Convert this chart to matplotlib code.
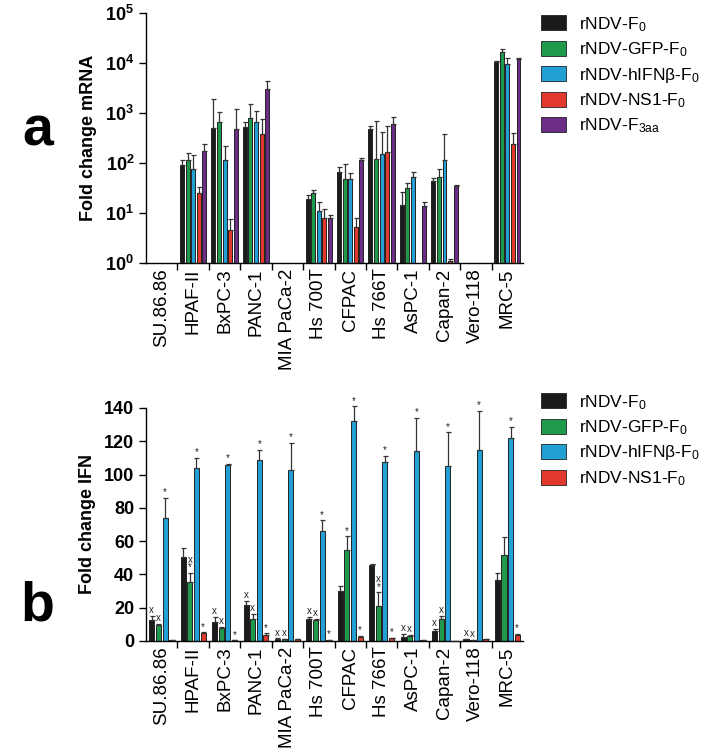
import numpy as np
import matplotlib
matplotlib.use("Agg")
import matplotlib.pyplot as plt
from matplotlib.patches import Patch
from matplotlib.ticker import FixedLocator, NullLocator, FixedFormatter

plt.rcParams["font.family"] = ["Liberation Sans", "DejaVu Sans"]
plt.rcParams["mathtext.fontset"] = "custom"
plt.rcParams["mathtext.rm"] = "Liberation Sans"
plt.rcParams["mathtext.it"] = "Liberation Sans:italic"
plt.rcParams["mathtext.bf"] = "Liberation Sans:bold"

cells = ["SU.86.86", "HPAF-II", "BxPC-3", "PANC-1", "MIA PaCa-2", "Hs 700T",
         "CFPAC", "Hs 766T", "AsPC-1", "Capan-2", "Vero-118", "MRC-5"]
nan = np.nan

# panel a: fold change mRNA (log)
mrna_f0 = [nan, 91, 500, 525, nan, 19, 66, 480, 14.5, 44, nan, 10500]
mrna_f0_sd = [nan, 24, 1400, 135, nan, 4, 17, 70, 11.5, 6, nan, 500]
mrna_gfp = [nan, 115, 660, 800, nan, 25, 48, 120, 32, 52, nan, 16600]
mrna_gfp_sd = [nan, 43, 390, 700, nan, 4, 47, 570, 8, 24, nan, 2400]
mrna_ifn = [nan, 76, 115, 660, nan, 11, 48, 150, 52, 115, nan, 9500]
mrna_ifn_sd = [nan, 69, 105, 440, nan, 5.6, 15, 270, 14, 265, nan, 3100]
mrna_ns1 = [nan, 25, 4.6, 380, nan, 8, 5.2, 166, nan, 1.1, nan, 240]
mrna_ns1_sd = [nan, 8, 3, 380, nan, 4, 2.8, 384, nan, 0.1, nan, 160]
mrna_f3aa = [nan, 174, 480, 3000, nan, 8, 115, 600, 14, 35, nan, 12000]
mrna_f3aa_sd = [nan, 66, 720, 1400, nan, 1.1, 11, 230, 2.6, 1, nan, 600]

# panel b: fold change IFN
ifn_f0 = [12.6, 50.5, 11.6, 21.6, 1.2, 13.2, 30.1, 45.9, 2.6, 6.2, 1.0, 36.5]
ifn_f0_sd = [2.4, 5.4, 3.0, 2.4, 0.3, 1.4, 2.9, 0.6, 1.6, 1.0, 0.3, 4.5]
ifn_gfp = [9.6, 35.3, 7.6, 13.2, 1.0, 12.6, 54.5, 21.1, 3.0, 13.0, 0.6, 51.5]
ifn_gfp_sd = [0.6, 5.6, 1.0, 3.0, 0.2, 0.6, 8.4, 8.1, 0.6, 2.0, 0.2, 11.0]
ifn_ifn = [74, 104, 105.6, 108.8, 103, 65.9, 132, 107.8, 114.4, 105, 114.8, 121.7]
ifn_ifn_sd = [11.8, 6, 0.8, 6, 16, 6.6, 9, 3.6, 19.5, 20.3, 23.5, 7]
ifn_ns1 = [0.6, 4.6, 0.4, 3.6, 1.2, 0.6, 2.6, 1.6, 0.6, 0.2, 1.4, 3.6]
ifn_ns1_sd = [0, 0.6, 0, 1.0, 0, 0, 0.4, 0.4, 0, 0, 0, 0.6]

sig_f0 = ["x", "", "x", "x", "x", "x", "", "", "x", "x", "x", ""]
sig_gfp = ["x", "x\n*", "x", "x", "x", "x", "*", "x\n*", "x", "x", "x", ""]
sig_ifn = ["*"] * 12
sig_ns1 = ["", "*", "*", "*", "", "*", "*", "*", "", "", "", "*"]

colors = ["#1b1b1b", "#1f9a4b", "#22a0d6", "#e2392f", "#6b2d86"]
labels_a = [r"rNDV-F$_{\mathrm{0}}$", r"rNDV-GFP-F$_{\mathrm{0}}$",
            r"rNDV-hIFNβ-F$_{\mathrm{0}}$", r"rNDV-NS1-F$_{\mathrm{0}}$",
            r"rNDV-F$_{\mathrm{3aa}}$"]

fig = plt.figure(figsize=(7.2, 7.54), dpi=100)
ax_a = fig.add_axes([0.2028, 0.6512, 0.5236, 0.3316])
ax_b = fig.add_axes([0.2028, 0.1499, 0.5236, 0.3090])

x = np.arange(len(cells))


def style_axis(ax):
    ax.spines["top"].set_visible(False)
    ax.spines["right"].set_visible(False)
    ax.spines["left"].set_linewidth(1.0)
    ax.spines["bottom"].set_linewidth(1.0)
    ax.set_xlim(-0.5, len(cells) - 0.5)
    ax.xaxis.set_major_locator(FixedLocator(np.arange(0.5, len(cells) - 0.5, 1)))
    ax.xaxis.set_major_formatter(FixedFormatter([""] * (len(cells) - 1)))
    ax.xaxis.set_minor_locator(FixedLocator(x))
    ax.xaxis.set_minor_formatter(FixedFormatter(cells))
    ax.tick_params(axis="x", which="major", length=5, width=1, direction="out")
    ax.tick_params(axis="x", which="minor", length=0, labelsize=13.5, rotation=90, pad=4)
    ax.tick_params(axis="y", length=5, width=1, direction="out", labelsize=13)
    for t in ax.get_yticklabels():
        t.set_fontweight("bold")


# panel a
ax_a.set_yscale("log")
series_a = [(mrna_f0, mrna_f0_sd), (mrna_gfp, mrna_gfp_sd), (mrna_ifn, mrna_ifn_sd),
            (mrna_ns1, mrna_ns1_sd), (mrna_f3aa, mrna_f3aa_sd)]
pitch_a, w_a = 0.178, 0.125
for i, (vals, sd) in enumerate(series_a):
    vals = np.array(vals, float)
    sd = np.array(sd, float)
    xs = x + (i - 2) * pitch_a
    ax_a.bar(xs, vals - 1, bottom=1, width=w_a, color=colors[i],
             edgecolor="#222222", linewidth=0.7, zorder=2)
    ax_a.errorbar(xs, vals, yerr=[np.zeros_like(sd), sd], fmt="none",
                  ecolor="#333333", elinewidth=0.9, capsize=1.8, capthick=0.9, zorder=3)
ax_a.set_ylim(1, 1e5)
ax_a.yaxis.set_major_locator(FixedLocator([1, 10, 100, 1e3, 1e4, 1e5]))
ax_a.yaxis.set_minor_locator(NullLocator())
ax_a.yaxis.set_major_formatter(FixedFormatter(
    [r"$\mathbf{10^{%d}}$" % k for k in range(6)]))
style_axis(ax_a)
ax_a.set_ylabel("Fold change mRNA", fontsize=13, fontweight="bold", labelpad=6)
handles_a = [Patch(facecolor=c, edgecolor="#222222", linewidth=0.6) for c in colors]
ax_a.legend(handles_a, labels_a, loc="upper left", bbox_to_anchor=(1.03, 1.02),
            frameon=False, fontsize=12.5, handlelength=1.45, handleheight=0.95,
            handletextpad=0.75, labelspacing=0.38, borderaxespad=0)

# panel b
series_b = [(ifn_f0, ifn_f0_sd, sig_f0), (ifn_gfp, ifn_gfp_sd, sig_gfp),
            (ifn_ifn, ifn_ifn_sd, sig_ifn), (ifn_ns1, ifn_ns1_sd, sig_ns1)]
pitch_b, w_b = 0.21, 0.16
for i, (vals, sd, sig) in enumerate(series_b):
    vals = np.array(vals, float)
    sd = np.array(sd, float)
    xs = x + (i - 1.5) * pitch_b
    ax_b.bar(xs, vals, width=w_b, color=colors[i], edgecolor="#222222",
             linewidth=0.7, zorder=2)
    ax_b.errorbar(xs, vals, yerr=[np.zeros_like(sd), sd], fmt="none",
                  ecolor="#333333", elinewidth=0.9, capsize=1.8, capthick=0.9,
                  zorder=3, clip_on=False)
    for xi, v, s, m in zip(xs, vals, sd, sig):
        if m:
            ax_b.annotate(m, (xi, v + s), xytext=(0, 0.5), textcoords="offset points",
                          ha="center", va="bottom", fontsize=7,
                          linespacing=0.7, color="#222222", annotation_clip=False)
ax_b.set_ylim(0, 140)
ax_b.yaxis.set_major_locator(FixedLocator(np.arange(0, 141, 20)))
style_axis(ax_b)
ax_b.set_ylabel("Fold change IFN", fontsize=13, fontweight="bold", labelpad=6)
ax_b.legend(handles_a[:4], labels_a[:4], loc="upper left", bbox_to_anchor=(1.03, 1.095),
            frameon=False, fontsize=12.5, handlelength=1.45, handleheight=0.95,
            handletextpad=0.75, labelspacing=0.38, borderaxespad=0)

fig.text(0.052, 0.825, "a", fontsize=40, fontweight="bold", ha="center", va="center")
fig.text(0.052, 0.195, "b", fontsize=40, fontweight="bold", ha="center", va="center")

fig.savefig("out.png", dpi=100)
